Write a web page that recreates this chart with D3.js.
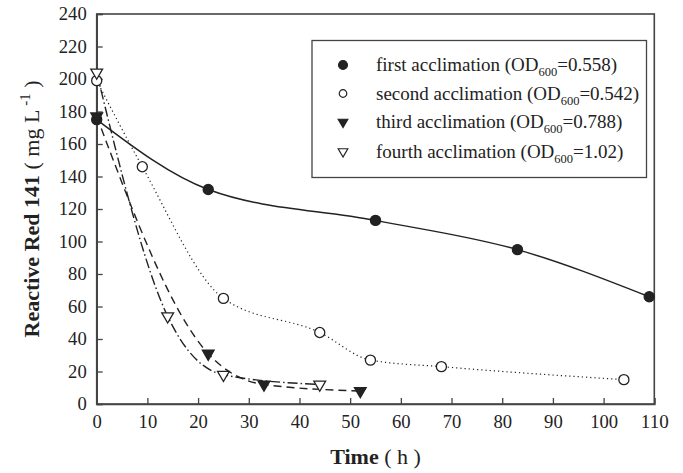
<!DOCTYPE html>
<html>
<head>
<meta charset="utf-8">
<script src="https://cdn.jsdelivr.net/npm/d3@7"></script>
<style>
	body { margin: 0; background: #fff; }
	text { font-family: "Liberation Serif", "Times New Roman", serif; fill: #222; }
</style>
</head>
<body>
<svg id="chart" width="683" height="473"></svg>
<script>
// data: time (h) and Reactive Red 141 (mg/L)
const first_time = [0, 22, 55, 83, 109];
const first_conc = [175, 132, 113, 95, 66];
const second_time = [0, 9, 25, 44, 54, 68, 104];
const second_conc = [199, 146, 65, 44, 27, 23, 15];
const third_time = [0, 22, 33, 52];
const third_conc = [177, 31, 12, 8];
const fourth_time = [0, 14, 25, 44];
const fourth_conc = [204, 54, 18, 12];

const series_labels = [
	["first acclimation (OD", "600", "=0.558)"],
	["second acclimation (OD", "600", "=0.542)"],
	["third acclimation (OD", "600", "=0.788)"],
	["fourth acclimation (OD", "600", "=1.02)"]
];
const x_ticks = d3.range(0, 111, 10);
const y_ticks = d3.range(0, 241, 20);

const svg = d3.select("#chart");
const ink = "#222";

const x = d3.scaleLinear().domain([0, 110]).range([96.7, 654.3]);
const y = d3.scaleLinear().domain([0, 240]).range([404, 14]);

// frame
svg.append("rect")
	.attr("x", x(0)).attr("y", y(240))
	.attr("width", x(110) - x(0)).attr("height", y(0) - y(240))
	.attr("fill", "none").attr("stroke", "#444").attr("stroke-width", 1.6);

// axes, ticks pointing inward
const x_axis = svg.append("g")
	.attr("transform", "translate(0," + y(0) + ")")
	.call(d3.axisBottom(x).tickValues(x_ticks).tickSize(-6).tickPadding(11));
const y_axis = svg.append("g")
	.attr("transform", "translate(" + x(0) + ",0)")
	.call(d3.axisLeft(y).tickValues(y_ticks).tickSize(-6).tickPadding(10));

[x_axis, y_axis].forEach(ax => {
	ax.select(".domain").attr("stroke", "#444").attr("stroke-width", 1.6);
	ax.selectAll(".tick line").attr("stroke", "#444").attr("stroke-width", 1.3);
	ax.selectAll(".tick text")
		.style("font-family", "Liberation Serif, serif")
		.style("font-size", "18.5px")
		.attr("fill", ink)
		.attr("textLength", d => String(d).length * 9.3)
		.attr("lengthAdjust", "spacingAndGlyphs");
});

// axis titles
svg.append("text")
	.attr("x", (x(0) + x(110)) / 2).attr("y", 464)
	.attr("text-anchor", "middle")
	.style("font-size", "22px")
	.call(t => {
		t.append("tspan").style("font-weight", "bold").text("Time");
		t.append("tspan").text(" ( h )");
	});

svg.append("text")
	.attr("transform", "translate(39," + ((y(0) + y(240)) / 2) + ") rotate(-90)")
	.attr("text-anchor", "middle")
	.style("font-size", "22px")
	.call(t => {
		t.append("tspan").style("font-weight", "bold").text("Reactive Red 141");
		t.append("tspan").text(" ( mg L");
		t.append("tspan").attr("dy", -9).style("font-size", "15px").text(" -1");
		t.append("tspan").attr("dy", 9).text(" )");
	});

// series
const series = [
	{ t: first_time, c: first_conc, dash: null, width: 1.5, sym: d3.symbolCircle, fill: ink, rot: 0 },
	{ t: second_time, c: second_conc, dash: "1.2,3", width: 1.2, sym: d3.symbolCircle, fill: "#fff", rot: 0 },
	{ t: third_time, c: third_conc, dash: "8,5", width: 1.4, sym: d3.symbolTriangle, fill: ink, rot: 180 },
	{ t: fourth_time, c: fourth_conc, dash: "10,3,1.5,3", width: 1.4, sym: d3.symbolTriangle, fill: "#fff", rot: 180 }
];

const line = d3.line()
	.x(d => x(d[0]))
	.y(d => y(d[1]))
	.curve(d3.curveMonotoneX);

const lines_g = svg.append("g");
const marks_g = svg.append("g");

series.forEach(s => {
	const pts = s.t.map((v, i) => [v, s.c[i]]);
	lines_g.append("path")
		.attr("d", line(pts))
		.attr("fill", "none")
		.attr("stroke", ink)
		.attr("stroke-width", s.width)
		.attr("stroke-dasharray", s.dash);
	marks_g.selectAll(null)
		.data(pts)
		.enter()
		.append("path")
		.attr("d", d3.symbol().type(s.sym).size(s.sym === d3.symbolCircle ? 80 : 60))
		.attr("transform", d => "translate(" + x(d[0]) + "," + y(d[1]) + ") rotate(" + s.rot + ")")
		.attr("fill", s.fill)
		.attr("stroke", ink)
		.attr("stroke-width", 1.3);
});

// legend
const legend = svg.append("g");
legend.append("rect")
	.attr("x", 312).attr("y", 40.5)
	.attr("width", 334.5).attr("height", 137)
	.attr("fill", "#fff").attr("stroke", "#444").attr("stroke-width", 1.3);

const row_y = [65, 93.5, 122, 151.5];
series.forEach((s, i) => {
	legend.append("path")
		.attr("d", d3.symbol().type(s.sym).size(s.sym === d3.symbolCircle ? (s.fill === ink ? 62 : 45) : 40))
		.attr("transform", "translate(343," + row_y[i] + ") rotate(" + s.rot + ")")
		.attr("fill", s.fill)
		.attr("stroke", ink)
		.attr("stroke-width", 1.2);
	const lab = series_labels[i];
	legend.append("text")
		.attr("x", 376).attr("y", row_y[i] + 6)
		.style("font-size", "19px")
		.call(t => {
			t.append("tspan").text(lab[0]);
			t.append("tspan").attr("dy", 5).style("font-size", "12.5px").text(lab[1]);
			t.append("tspan").attr("dy", -5).text(lab[2]);
		});
});
</script>
</body>
</html>
